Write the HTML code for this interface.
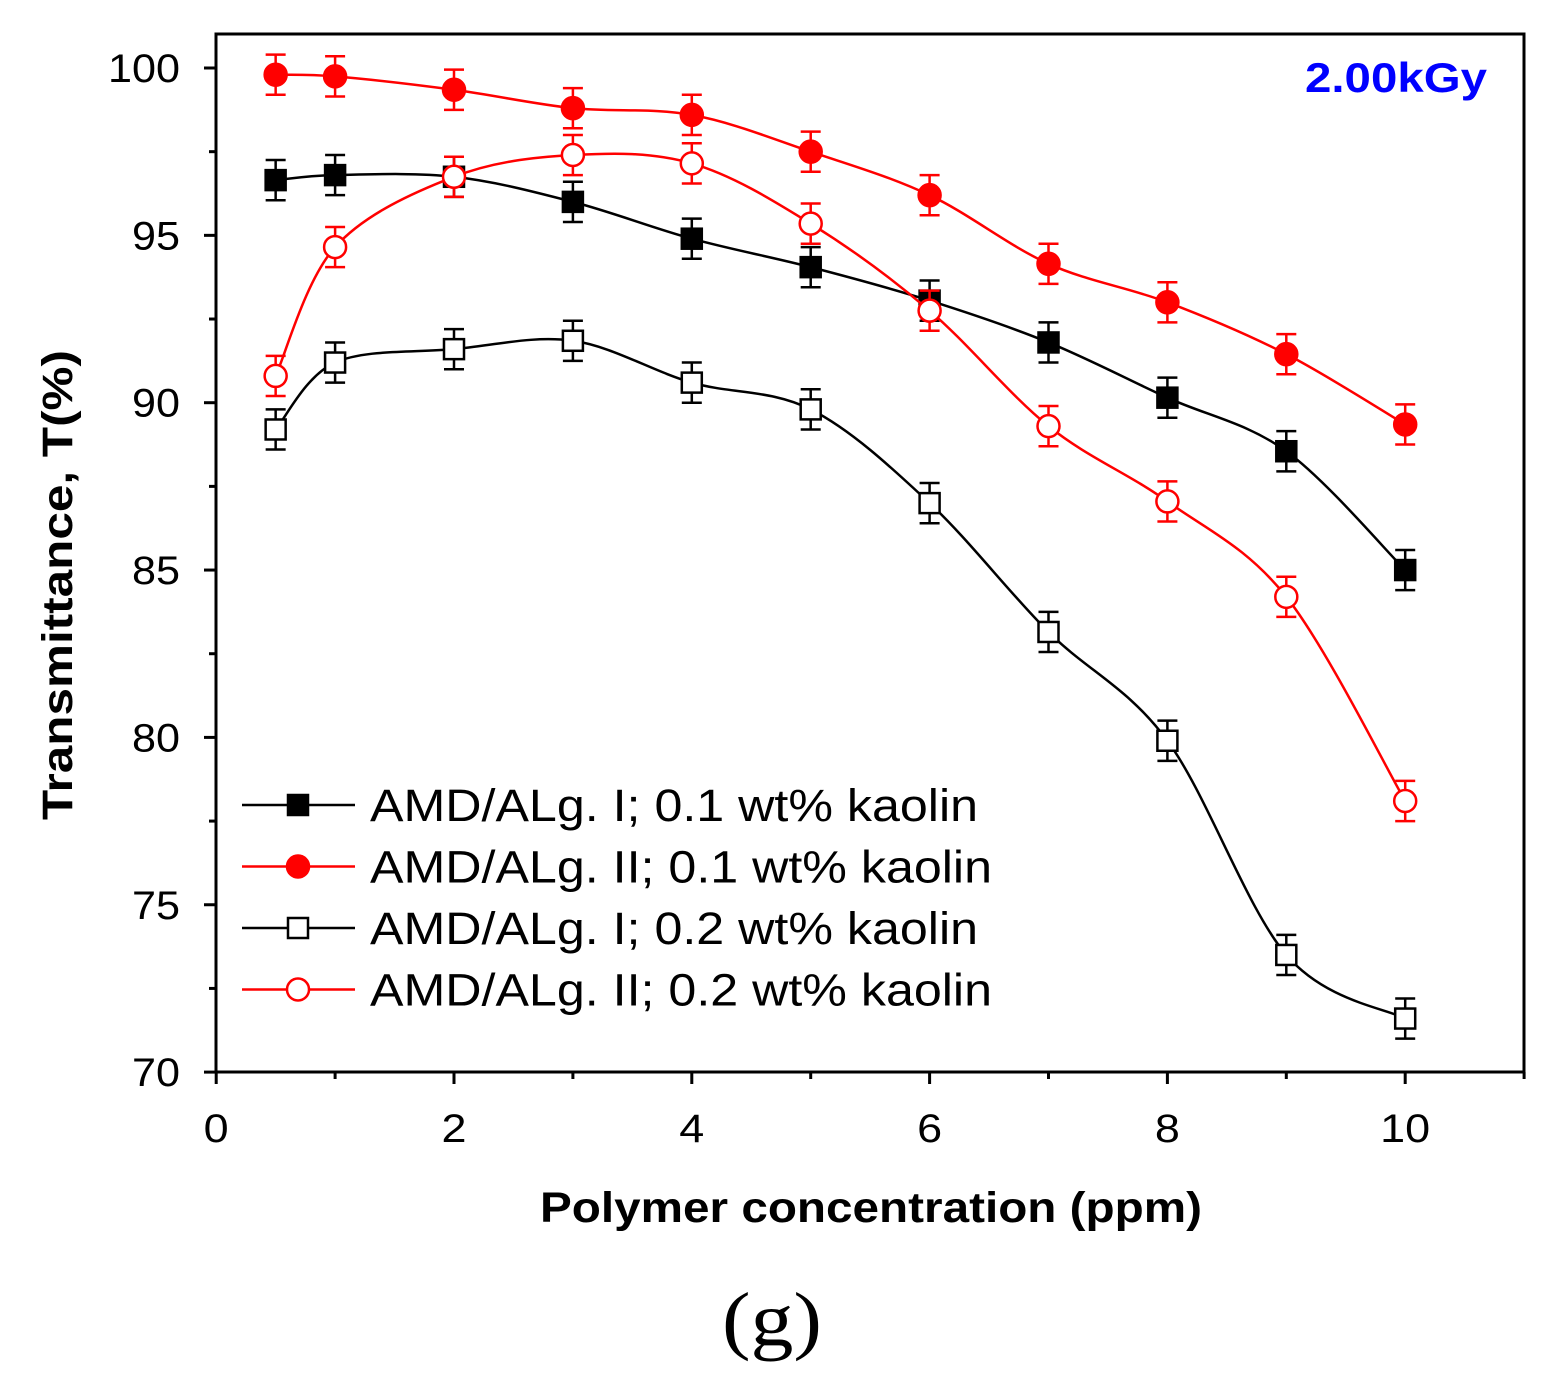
<!DOCTYPE html>
<html><head><meta charset="utf-8"><style>
body{margin:0;background:#fff;width:1551px;height:1380px;overflow:hidden}
svg{display:block}
text{font-family:"Liberation Sans",Arial,sans-serif}
</style></head><body>
<svg id="chart" width="1551" height="1380">
</svg>
<script>
const xValues=[0.5,1,2,3,4,5,6,7,8,9,10];
const seriesI01=[96.65,96.8,96.75,96.0,94.9,94.05,93.05,91.8,90.15,88.55,85.0];
const seriesII01=[99.8,99.75,99.35,98.8,98.6,97.5,96.2,94.15,93.0,91.45,89.35];
const seriesI02=[89.2,91.2,91.6,91.85,90.6,89.8,87.0,83.15,79.9,73.5,71.6];
const seriesII02=[90.8,94.65,96.75,97.4,97.15,95.35,92.75,89.3,87.05,84.2,78.1];
const errorValue=0.6;
const xTicks=[0,2,4,6,8,10];
const yTicks=[70,75,80,85,90,95,100];
const legendLabels=["AMD/ALg. I; 0.1 wt% kaolin","AMD/ALg. II; 0.1 wt% kaolin","AMD/ALg. I; 0.2 wt% kaolin","AMD/ALg. II; 0.2 wt% kaolin"];

const L=216,R=1524,T=34,B=1072;
const xs=v=>216.2+v*118.9;
const ys=v=>68+(100-v)*33.47;
const NS="http://www.w3.org/2000/svg";
const svg=document.getElementById('chart');
function mk(tag,attrs,parent){const e=document.createElementNS(NS,tag);for(const k in attrs)e.setAttribute(k,attrs[k]);(parent||svg).appendChild(e);return e;}

const frame=mk('rect',{x:L,y:T,width:R-L,height:B-T,fill:'none',stroke:'#000','stroke-width':3});



for(let v=0;v<=11;v++){
  const major=v%2===0;
  const t=mk('line',{x1:xs(v),x2:xs(v),y1:B,y2:B+(major?12:7),stroke:'#000','stroke-width':3});
  
  
}
xTicks.forEach(v=>{
  const s=String(v);
  const t=mk('text',{x:xs(v),y:B+70,'font-size':40,'text-anchor':'middle',textLength:s.length*25,lengthAdjust:'spacingAndGlyphs'});
  t.textContent=s;
  
  
});
for(let v=70;v<=100;v+=2.5){
  const major=v%5===0;
  const t=mk('line',{x1:L-(major?12:7),x2:L,y1:ys(v),y2:ys(v),stroke:'#000','stroke-width':3});
  
  
}
yTicks.forEach(v=>{
  const s=String(v);
  const t=mk('text',{x:L-36,y:ys(v)+14,'font-size':40,'text-anchor':'end',textLength:s.length*24,lengthAdjust:'spacingAndGlyphs'});
  t.textContent=s;
  
  
});

const xt=mk('text',{x:871,y:1222,'font-size':43,'font-weight':'bold','text-anchor':'middle',textLength:662,lengthAdjust:'spacingAndGlyphs'});
xt.textContent='Polymer concentration (ppm)';


const yt=mk('text',{x:0,y:0,'font-size':43,'font-weight':'bold','text-anchor':'middle',textLength:470,lengthAdjust:'spacingAndGlyphs',transform:'translate(72,585) rotate(-90)'});
yt.textContent='Transmittance, T(%)';


const dose=mk('text',{x:1487,y:92,'font-size':42,'font-weight':'bold','text-anchor':'end',fill:'#0000ff',textLength:182,lengthAdjust:'spacingAndGlyphs'});
dose.textContent='2.00kGy';


const cap=mk('text',{x:772,y:1345,'font-size':76,'text-anchor':'middle',textLength:100,lengthAdjust:'spacingAndGlyphs'});
cap.setAttribute('style','font-family:"Liberation Serif",serif');
cap.textContent='(g)';



function spline(pts){
  let d=`M${pts[0][0]},${pts[0][1]}`;
  for(let i=0;i<pts.length-1;i++){
    const p0=pts[Math.max(0,i-1)],p1=pts[i],p2=pts[i+1],p3=pts[Math.min(pts.length-1,i+2)];
    const c1=[p1[0]+(p2[0]-p0[0])/6,p1[1]+(p2[1]-p0[1])/6];
    const c2=[p2[0]-(p3[0]-p1[0])/6,p2[1]-(p3[1]-p1[1])/6];
    d+=` C${c1[0]},${c1[1]} ${c2[0]},${c2[1]} ${p2[0]},${p2[1]}`;
  }
  return d;
}
function marker(g,x,y,shape,color,filled){
  let m;
  if(shape==='sq') m=mk('rect',{x:x-10,y:y-10,width:20,height:20,fill:filled?color:'#fff',stroke:color,'stroke-width':2.5},g);
  else m=mk('circle',{cx:x,cy:y,r:11,fill:filled?color:'#fff',stroke:color,'stroke-width':2.5},g);
  return m;
}
const series=[
  {name:'series-amd-alg-i-0-1',vals:seriesI01,color:'#000',shape:'sq',filled:true},
  {name:'series-amd-alg-ii-0-1',vals:seriesII01,color:'#ff0000',shape:'ci',filled:true},
  {name:'series-amd-alg-i-0-2',vals:seriesI02,color:'#000',shape:'sq',filled:false},
  {name:'series-amd-alg-ii-0-2',vals:seriesII02,color:'#ff0000',shape:'ci',filled:false}
];
const legendLengths=[608,622,608,622];
series.forEach((s,si)=>{
  const g=mk('g',{});
  
  
  const pts=xValues.map((x,i)=>[xs(x),ys(s.vals[i])]);
  const p=mk('path',{d:spline(pts),fill:'none',stroke:s.color,'stroke-width':2.5},g);
  
  
  xValues.forEach((x,i)=>{
    const cx=xs(x),y1=ys(s.vals[i]+errorValue),y2=ys(s.vals[i]-errorValue);
    const eb=mk('path',{d:`M${cx},${y1}V${y2}M${cx-10},${y1}H${cx+10}M${cx-10},${y2}H${cx+10}`,stroke:s.color,'stroke-width':2.5,fill:'none'},g);
    
    
    const m=marker(g,cx,ys(s.vals[i]),s.shape,s.color,s.filled);
    
    
  });
  const ly=805+si*61.5;
  const lg=mk('g',{});
  
  
  mk('line',{x1:242,x2:355,y1:ly,y2:ly,stroke:s.color,'stroke-width':2.5},lg);
  marker(lg,298,ly,s.shape,s.color,s.filled);
  const lt=mk('text',{x:370,y:ly+16,'font-size':45,textLength:legendLengths[si],lengthAdjust:'spacingAndGlyphs'},lg);
  lt.textContent=legendLabels[si];
});
</script>
</body></html>
